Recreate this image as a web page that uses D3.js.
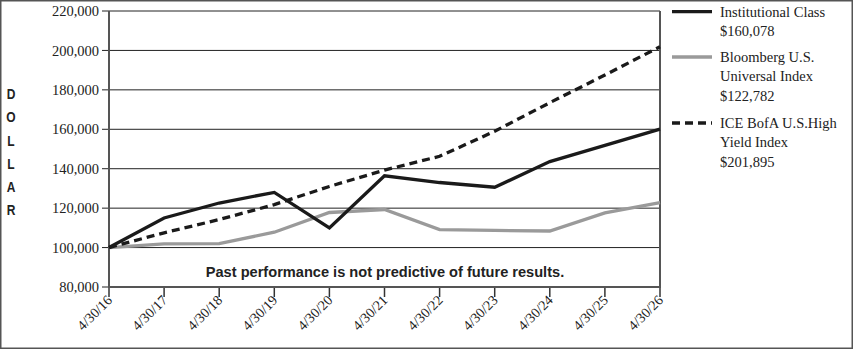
<!DOCTYPE html>
<html><head><meta charset="utf-8">
<script src="https://cdn.jsdelivr.net/npm/d3@7"></script>
<style>body{margin:0;background:#fff}svg{display:block}</style>
</head><body>
<script>
const categories = ["4/30/16","4/30/17","4/30/18","4/30/19","4/30/20","4/30/21","4/30/22","4/30/23","4/30/24","4/30/25","4/30/26"];
const institutional = [100000,115000,122600,128000,110000,136400,133000,130600,143600,151800,160078];
const bloomberg = [100000,101900,102000,107800,117800,119300,109100,108700,108400,117600,122782];
const iceHighYield = [100000,107500,114200,121800,131000,139300,146300,159000,173500,187500,201895];
const yTicks = [80000,100000,120000,140000,160000,180000,200000,220000];
const seriesNames = [["Institutional Class","$160,078"],["Bloomberg U.S.","Universal Index","$122,782"],["ICE BofA U.S.High","Yield Index","$201,895"]];
const axisLabelLetters = ["D","O","L","L","A","R"];
const note = "Past performance is not predictive of future results.";

const W=854,H=350;
const svg=d3.select("body").append("svg").attr("width",W).attr("height",H);
svg.append("rect").attr("x",0.75).attr("y",0.75).attr("width",851.5).attr("height",347.5)
  .attr("fill","none").attr("stroke","#555").attr("stroke-width",1.5);

const x=d3.scalePoint().domain(categories).range([109,660]);
const y=d3.scaleLinear().domain([80000,220000]).range([287,11]);
const serif="'Liberation Serif','Times New Roman',serif";

// gridlines
svg.append("g").selectAll("line").data(yTicks).join("line")
  .attr("x1",102).attr("x2",660).attr("y1",d=>y(d)).attr("y2",d=>y(d))
  .attr("stroke","#222").attr("stroke-width",1);
// y labels
svg.append("g").selectAll("text").data(yTicks).join("text")
  .attr("x",99).attr("y",d=>y(d)).attr("dy","0.35em").attr("text-anchor","end")
  .style("font-family",serif).style("font-size","14.5px").attr("fill","#222")
  .text(d=>d3.format(",")(d));
// x ticks
svg.append("g").selectAll("line").data(categories).join("line")
  .attr("x1",d=>x(d)).attr("x2",d=>x(d)).attr("y1",287).attr("y2",297)
  .attr("stroke","#333").attr("stroke-width",1.5);
svg.append("g").selectAll("text").data(categories).join("text")
  .attr("transform",d=>`translate(${x(d)+4},${301}) rotate(-45)`)
  .attr("text-anchor","end")
  .style("font-family",serif).style("font-size","14px").attr("fill","#222")
  .text(d=>d);
// axes frame
svg.append("line").attr("x1",109).attr("x2",109).attr("y1",11).attr("y2",288).attr("stroke","#555").attr("stroke-width",2);
svg.append("line").attr("x1",660).attr("x2",660).attr("y1",11).attr("y2",288).attr("stroke","#555").attr("stroke-width",2);
svg.append("line").attr("x1",108).attr("x2",661).attr("y1",287).attr("y2",287).attr("stroke","#555").attr("stroke-width",2);

const line=d3.line().x((d,i)=>x(categories[i])).y(d=>y(d));
const styles=[
  {data:bloomberg,color:"#9a9a9a",dash:null},
  {data:iceHighYield,color:"#1a1a1a",dash:"8,5"},
  {data:institutional,color:"#1a1a1a",dash:null}
];
styles.forEach(s=>{
  svg.append("path").datum(s.data).attr("d",line).attr("fill","none")
    .attr("stroke",s.color).attr("stroke-width",3.3).attr("stroke-dasharray",s.dash)
    .attr("stroke-linejoin","miter");
});

// note
svg.append("text").attr("x",385).attr("y",277).attr("text-anchor","middle")
  .style("font-family","'Liberation Sans',Arial,sans-serif").style("font-weight","bold").style("font-size","14.6px")
  .attr("fill","#222").text(note);

// DOLLAR
svg.append("g").selectAll("text").data(axisLabelLetters).join("text")
  .attr("transform",(d,i)=>`translate(11,${94+i*23.2}) scale(0.8,1)`).attr("dy","0.35em").attr("text-anchor","middle")
  .style("font-family","'Liberation Sans Narrow','Arial Narrow','Liberation Sans',sans-serif").style("font-weight","bold").style("font-size","15px")
  .attr("fill","#222").text(d=>d);

// legend
const legY=[11.7,57,123];
const legColors=["#1a1a1a","#9a9a9a","#1a1a1a"];
const legDash=[null,null,"8,5"];
seriesNames.forEach((lines,k)=>{
  svg.append("line").attr("x1",672).attr("x2",712).attr("y1",legY[k]).attr("y2",legY[k])
    .attr("stroke",legColors[k]).attr("stroke-width",3.3).attr("stroke-dasharray",legDash[k]);
  svg.append("g").selectAll("text").data(lines).join("text")
    .attr("x",720).attr("y",(d,i)=>legY[k]+i*19.3).attr("dy","0.35em")
    .style("font-family",serif).style("font-size","14.5px").attr("fill","#222").text(d=>d);
});
</script>
</body></html>
